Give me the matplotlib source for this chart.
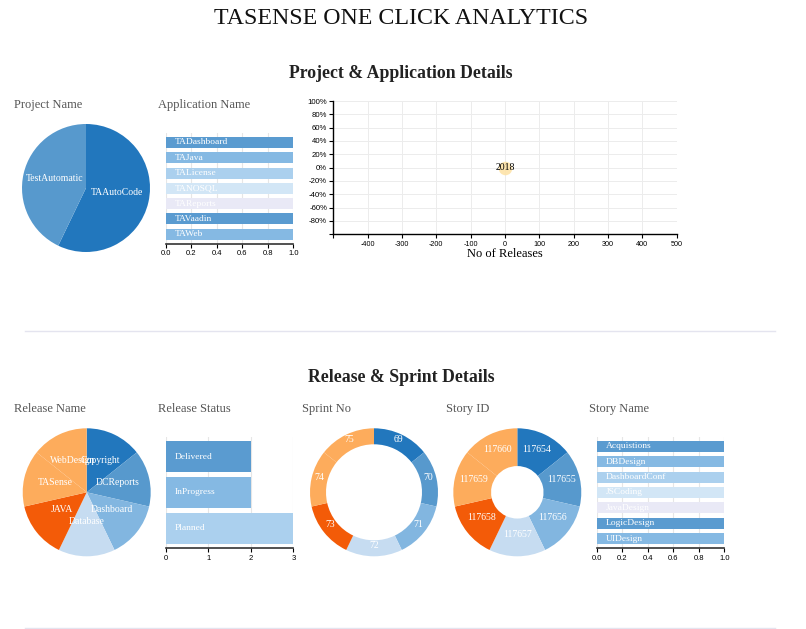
import matplotlib
matplotlib.use('Agg')
import matplotlib.pyplot as plt
from matplotlib.lines import Line2D
import numpy as np

# --- data ---
project_names = ['TAAutoCode', 'TestAutomatic']
project_counts = [4, 3]

app_names = ['TADashboard', 'TAJava', 'TALicense', 'TANOSQL', 'TAReports', 'TAVaadin', 'TAWeb']
app_counts = [1, 1, 1, 1, 1, 1, 1]

bubble_years = ['2018']
bubble_releases = [0]
bubble_pct = [0]

release_names = ['Copyright', 'DCReports', 'Dashboard', 'Database', 'JAVA', 'TASense', 'WebDesign']
release_counts = [1, 1, 1, 1, 1, 1, 1]

status_names = ['Delivered', 'InProgress', 'Planned']
status_counts = [2, 2, 3]

sprint_nos = ['69', '70', '71', '72', '73', '74', '75']
sprint_counts = [1, 1, 1, 1, 1, 1, 1]

story_ids = ['117654', '117655', '117656', '117657', '117658', '117659', '117660']
story_counts = [1, 1, 1, 1, 1, 1, 1]

story_names = ['Acquistions', 'DBDesign', 'DashboardConf', 'JSCoding', 'JavaDesign', 'LogicDesign', 'UIDesign']
story_name_counts = [1, 1, 1, 1, 1, 1, 1]

# colours
pie_colors = ['#2277bd', '#5799cd', '#82b6e0', '#c6dcf1', '#f35b08', '#fdac5c', '#fdac5c']
row_colors = ['#5a9bd0', '#85b9e3', '#abd0ee', '#d2e6f6', '#e9e9f6']

SERIF = ['Liberation Serif', 'DejaVu Serif']
SANS = ['Liberation Sans', 'DejaVu Sans']

W, H = 806, 629
fig = plt.figure(figsize=(W / 100, H / 100), dpi=100)
fig.patch.set_facecolor('white')


def px_axes(left, top, width, height):
    return fig.add_axes([left / W, 1 - (top + height) / H, width / W, height / H])


def ftext(x, y, s, **kw):
    fig.text(x / W, 1 - y / H, s, **kw)


def pie_chart(cx, cy, r, labels, values, colors, inner=0.0):
    ax = px_axes(cx - r, cy - r, 2 * r, 2 * r)
    wp = {'linewidth': 0}
    if inner > 0:
        wp['width'] = 1 - inner
    wedges, _ = ax.pie(values, colors=colors, startangle=90, counterclock=False,
                       radius=1, wedgeprops=wp)
    ax.set_xlim(-1, 1)
    ax.set_ylim(-1, 1)
    rl = (1 + inner) / 2
    for w, lab in zip(wedges, labels):
        mid = np.deg2rad((w.theta1 + w.theta2) / 2)
        ax.text(rl * np.cos(mid), rl * np.sin(mid), lab, ha='center', va='baseline',
                color='white', fontsize=7, family=SERIF)
    return ax


def row_chart(left, top, width, height, labels, values, colors, xmax, xticks, bh, fmt):
    ax = px_axes(left, top, width, height)
    n = len(labels)
    y = np.arange(n)
    ax.barh(y, values, height=bh, color=[colors[i % len(colors)] for i in y])
    for yi, lab in zip(y, labels):
        ax.annotate(lab, xy=(0, yi), xycoords=('axes fraction', 'data'),
                    xytext=(6.5, 0), textcoords='offset points', ha='left', va='center',
                    color='white', fontsize=6.8, family=SERIF)
    pad_px = 4.2
    m = pad_px * (n - 1 + bh) / (height - 2 * pad_px)
    ax.set_ylim(n - 1 + bh / 2 + m, -bh / 2 - m)
    ax.set_xlim(0, xmax)
    ax.set_xticks(xticks)
    ax.set_xticklabels([fmt(v) for v in xticks], family=SANS, fontsize=5.5)
    ax.set_yticks([])
    ax.grid(axis='x', color='#e6e6e6', lw=0.8)
    ax.set_axisbelow(True)
    for s in ['top', 'left', 'right']:
        ax.spines[s].set_visible(False)
    ax.spines['bottom'].set_color('#333333')
    ax.spines['bottom'].set_linewidth(1.2)
    ax.tick_params(axis='x', length=3, width=0.8, pad=1.5, colors='#000000')
    return ax


# --- headings ---
ftext(401, 18, 'TASENSE ONE CLICK ANALYTICS', ha='center', va='center',
      fontsize=17.2, family=SERIF, color='#111111')
ftext(401, 73, 'Project & Application Details', ha='center', va='center',
      fontsize=12.8, family=SERIF, weight='bold', color='#222222')
ftext(401, 377, 'Release & Sprint Details', ha='center', va='center',
      fontsize=12.8, family=SERIF, weight='bold', color='#222222')

for x, y, s in [(14, 105, 'Project Name'), (158, 105, 'Application Name'),
                (14, 409, 'Release Name'), (158, 409, 'Release Status'),
                (302, 409, 'Sprint No'), (446, 409, 'Story ID'), (589, 409, 'Story Name')]:
    ftext(x, y, s, ha='left', va='center', fontsize=9, family=SERIF, color='#555555')

# separators
for yy in [331.5, 627.5]:
    fig.add_artist(Line2D([25 / W, 775 / W], [1 - yy / H] * 2, color='#e4e4ef', lw=1.0))

# --- first row ---
pie_chart(86, 188, 64, project_names, project_counts, ['#2277bd', '#5799cd'])

row_chart(165.7, 132.7, 127.6, 111.3, app_names, app_counts, row_colors, 1.0,
          [0, 0.2, 0.4, 0.6, 0.8, 1.0], 0.72, lambda v: f'{v:.1f}')

ax = px_axes(333.3, 101, 343.4, 133.3)
ax.set_xlim(-500, 500)
ax.set_ylim(-100, 100)
xt = list(range(-500, 501, 100))
yt = list(range(-100, 101, 20))
ax.set_xticks(xt)
ax.set_xticklabels(['' if v == -500 else str(v) for v in xt], family=SANS, fontsize=5.2)
ax.set_yticks(yt)
ax.set_yticklabels(['' if v == -100 else f'{v}%' for v in yt], family=SANS, fontsize=5.6)
ax.grid(True, color='#ececec', lw=0.7)
ax.set_axisbelow(True)
for s in ['top', 'right']:
    ax.spines[s].set_visible(False)
for s in ['left', 'bottom']:
    ax.spines[s].set_color('#000000')
    ax.spines[s].set_linewidth(1.0)
ax.tick_params(length=3, width=0.8, pad=1.5)
ax.scatter(bubble_releases, bubble_pct, s=95, color='#fde3a8', alpha=0.9, lw=0, zorder=3)
for x, y, s in zip(bubble_releases, bubble_pct, bubble_years):
    ax.text(x, y, s, ha='center', va='center', fontsize=7, family=SERIF, color='black', zorder=4)
ftext(505, 254, 'No of Releases', ha='center', va='center', fontsize=9, family=SERIF, color='black')

# --- second row ---
pie_chart(86.7, 492.3, 64, release_names, release_counts, pie_colors)

row_chart(165.7, 436.7, 127.6, 111.6, status_names, status_counts, row_colors, 3,
          [0, 1, 2, 3], 0.88, lambda v: f'{v}')

pie_chart(374, 492.3, 64, sprint_nos, sprint_counts, pie_colors, inner=0.75)
pie_chart(517.3, 492.3, 64, story_ids, story_counts, pie_colors, inner=0.41)

row_chart(596.7, 436.7, 127.6, 111.6, story_names, story_name_counts, row_colors, 1.0,
          [0, 0.2, 0.4, 0.6, 0.8, 1.0], 0.72, lambda v: f'{v:.1f}')

fig.savefig('out.png', dpi=100, facecolor='white')
